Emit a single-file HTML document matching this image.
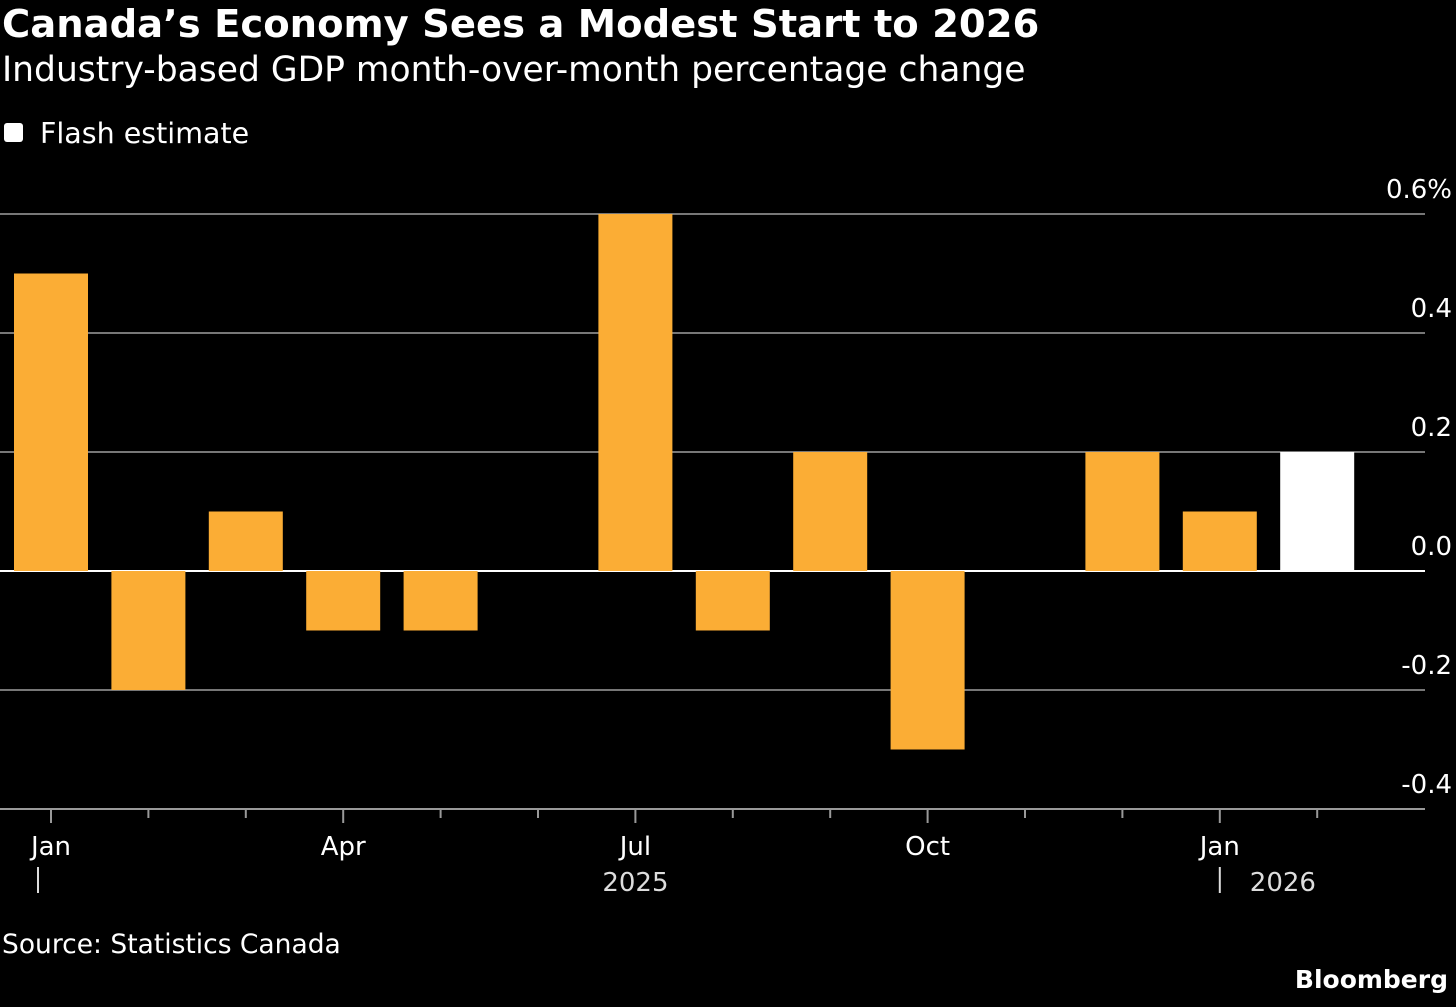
<!DOCTYPE html>
<html><head><meta charset="utf-8"><style>
body{margin:0;background:#000;width:1456px;height:1007px;overflow:hidden;font-family:"DejaVu Sans","Liberation Sans",sans-serif;color:#fff}
.t{position:absolute;white-space:nowrap}
</style></head><body>
<div class="t" style="left:2px;top:2px;font-size:38.5px;font-weight:bold">Canada’s Economy Sees a Modest Start to 2026</div>
<div class="t" style="left:2px;top:50px;font-size:34.5px">Industry-based GDP month-over-month percentage change</div>
<div class="t" style="left:4px;top:117px;font-size:28.5px"><span style="display:inline-block;width:19px;height:19px;background:#fff;border-radius:3px;margin-right:17px;vertical-align:1px"></span>Flash estimate</div>
<svg id="c" width="1456" height="1007" style="position:absolute;left:0;top:0"></svg>
<div class="t" style="left:2px;top:929px;font-size:26.5px">Source: Statistics Canada</div>
<div class="t" style="right:8px;top:965px;font-size:25px;font-weight:bold">Bloomberg</div>
<script>
const months=["Jan","Feb","Mar","Apr","May","Jun","Jul","Aug","Sep","Oct","Nov","Dec","Jan","Feb"];
const values=[0.5,-0.2,0.1,-0.1,-0.1,0,0.6,-0.1,0.2,-0.3,0,0.2,0.1,0.2];
const flash=[false,false,false,false,false,false,false,false,false,false,false,false,false,true];
const yTicks=[0.6,0.4,0.2,0,-0.2,-0.4];
const yLabels=["0.6%","0.4","0.2","0.0","-0.2","-0.4"];
const xLabelIdx=[0,3,6,9,12];
const NS="http://www.w3.org/2000/svg";
const svg=document.getElementById('c');
const y=v=>571-v*595;
const x=i=>51+i*97.4;
function mk(t,a){const e=document.createElementNS(NS,t);for(const k in a)e.setAttribute(k,a[k]);svg.appendChild(e);return e;}
yTicks.forEach((v,i)=>{
  const l=mk('line',{x1:0,x2:1425,y1:y(v),y2:y(v),stroke:v===0?'#fff':'#777','stroke-width':2});
  
  
  const t=mk('text',{x:1452,y:y(v)-16,'text-anchor':'end',fill:'#fff','font-size':26,'font-family':'DejaVu Sans, Liberation Sans, sans-serif'});
  t.textContent=yLabels[i];
  
  
});
values.forEach((v,i)=>{
  const top=Math.min(y(v),y(0)),h=Math.abs(y(v)-y(0));
  const r=mk('rect',{x:x(i)-37,y:top,width:74,height:h,fill:flash[i]?'#fff':'#fbad35'});
  
  
  const major=xLabelIdx.includes(i);
  const tk=mk('line',{x1:x(i),x2:x(i),y1:809,y2:major?823:818,stroke:'#999','stroke-width':2});
  
  
});
mk('line',{x1:0,x2:1425,y1:809,y2:809,stroke:'#999','stroke-width':2});
xLabelIdx.forEach(i=>{
  const t=mk('text',{x:x(i),y:855,'text-anchor':'middle',fill:'#fff','font-size':26,'font-family':'DejaVu Sans, Liberation Sans, sans-serif'});
  t.textContent=months[i];
  
  
});
function yr(txt,px,anchor){const t=mk('text',{x:px,y:891,'text-anchor':anchor,fill:'#ddd','font-size':26,'font-family':'DejaVu Sans, Liberation Sans, sans-serif'});t.textContent=txt;

}
mk('line',{x1:x(0)-13,x2:x(0)-13,y1:867,y2:893,stroke:'#ddd','stroke-width':2});
yr('2025',x(6),'middle');
mk('line',{x1:x(12),x2:x(12),y1:867,y2:893,stroke:'#ddd','stroke-width':2});
yr('2026',x(12)+30,'start');
</script>
</body></html>
